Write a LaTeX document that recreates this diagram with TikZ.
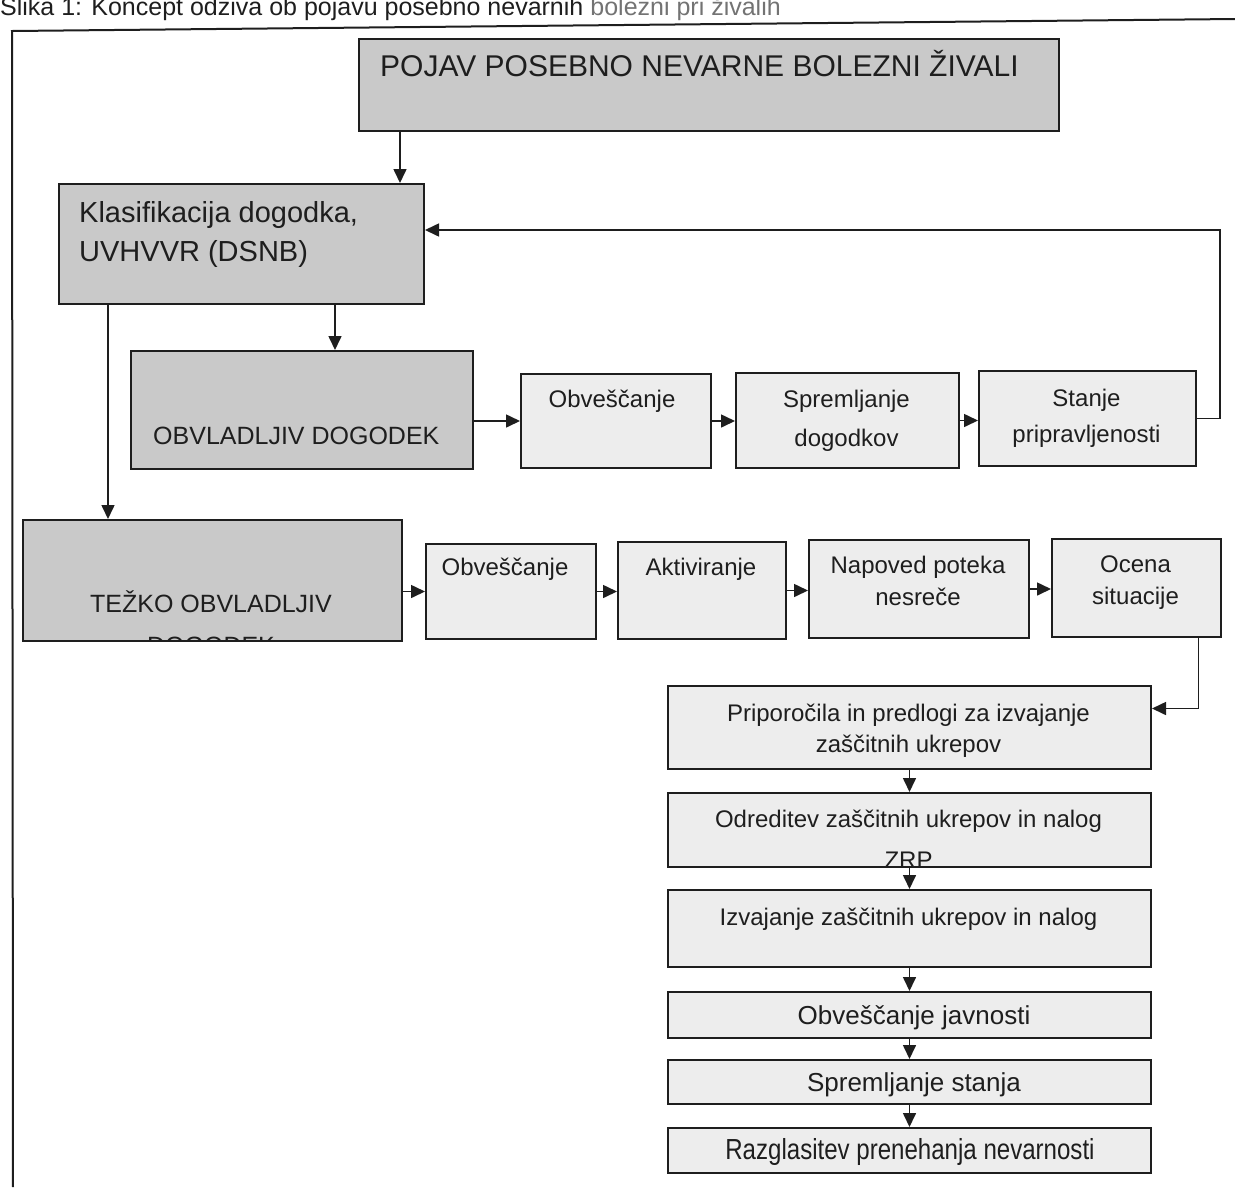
\documentclass[tikz,border=0pt]{standalone}
\usepackage{fontspec}
\setmainfont{Liberation Sans}
\newfontfamily\narrowfont[FakeStretch=0.83]{Liberation Sans}
\usetikzlibrary{arrows.meta,calc}
\definecolor{dgray}{HTML}{C9C9C9}
\definecolor{lgray}{HTML}{EDEDED}
\definecolor{ink}{HTML}{1E1E1E}
\begin{document}
\begin{tikzpicture}[x=1pt,y=-1pt,
  box/.style={draw=ink, line width=2pt, inner sep=0pt, anchor=north west},
  dbox/.style={box, fill=dgray},
  lbox/.style={box, fill=lgray},
  txt/.style={text=ink, inner sep=0pt, anchor=base, font=\fontsize{24}{29}\selectfont},
  ltxt/.style={txt, anchor=base west},
  arr/.style={draw=ink, line width=1.6pt, -{Triangle[length=14pt,width=13pt]}},
  ln/.style={draw=ink, line width=2pt}]
\useasboundingbox (0,0) rectangle (1235,1187);

% title (cut at the top of the page, as in the reference)
\node[ltxt, font=\fontsize{25}{30}\selectfont] (title) at (0,15) {Slika 1: Koncept odziva ob pojavu posebno nevarnih \textcolor{black!55}{bolezni pri živalih}};

% frame
\coordinate (ftl) at (12,31);
\coordinate (ftr) at (1235,19);
\coordinate (fbl) at (13,1187);
\draw[ln] (fbl) -- (ftl) -- (ftr);

% top part
\node[dbox, minimum width=700pt, minimum height=92pt] (pojav) at (358,38) {};
\node[ltxt, font=\fontsize{30}{36}\selectfont] (pojav-t) at (380,76) {POJAV POSEBNO NEVARNE BOLEZNI ŽIVALI};

\node[dbox, minimum width=365pt, minimum height=120pt] (klas) at (58,183) {};
\node[ltxt, font=\fontsize{29}{35}\selectfont] (klas-t1) at (79,222) {Klasifikacija dogodka,};
\node[ltxt, font=\fontsize{29}{35}\selectfont] (klas-t2) at (79,261) {UVHVVR (DSNB)};

% row 1
\node[dbox, minimum width=342pt, minimum height=118pt] (obv) at (130,350) {};
\node[ltxt, font=\fontsize{25}{30}\selectfont] (obv-t) at (153,444) {OBVLADLJIV DOGODEK};

\node[lbox, minimum width=190pt, minimum height=94pt] (obv1) at (520,373) {};
\node[txt] (obv1-t) at (612,407) {Obveščanje};

\node[lbox, minimum width=223pt, minimum height=95pt] (spr) at (735,372) {};
\node[txt] (spr-t1) at (846.5,407) {Spremljanje};
\node[txt] (spr-t2) at (846.5,446) {dogodkov};

\node[lbox, minimum width=217pt, minimum height=95pt] (stanje) at (978,370) {};
\node[txt] (stanje-t1) at (1086.5,406) {Stanje};
\node[txt] (stanje-t2) at (1086.5,442) {pripravljenosti};

% row 2
\node[dbox, minimum width=379pt, minimum height=121pt] (tezko) at (22,519) {};
\node[txt, font=\fontsize{25}{30}\selectfont] (tezko-t1) at (211,612) {TEŽKO OBVLADLJIV};
\begin{scope}
  \clip ([shift={(1pt,1pt)}]tezko.south west) rectangle ([shift={(-1pt,-1pt)}]tezko.north east);
  \node[txt, font=\fontsize{25}{30}\selectfont] (tezko-t2) at (211,654) {DOGODEK};
\end{scope}

\node[lbox, minimum width=170pt, minimum height=95pt] (obv2) at (425,543) {};
\node[txt] (obv2-t) at (505,575) {Obveščanje};

\node[lbox, minimum width=168pt, minimum height=97pt] (aktiv) at (617,541) {};
\node[txt] (aktiv-t) at (701,575) {Aktiviranje};

\node[lbox, minimum width=220pt, minimum height=98pt] (napov) at (808,539) {};
\node[txt] (napov-t1) at (918,573) {Napoved poteka};
\node[txt] (napov-t2) at (918,605) {nesreče};

\node[lbox, minimum width=169pt, minimum height=98pt] (ocena) at (1051,538) {};
\node[txt] (ocena-t1) at (1135.5,572) {Ocena};
\node[txt] (ocena-t2) at (1135.5,604) {situacije};

% vertical chain
\node[lbox, minimum width=483pt, minimum height=83pt] (prip) at (667,685) {};
\node[txt] (prip-t1) at (908.5,721) {Priporočila in predlogi za izvajanje};
\node[txt] (prip-t2) at (908.5,752) {zaščitnih ukrepov};

\node[lbox, minimum width=483pt, minimum height=74pt] (odred) at (667,792) {};
\node[txt] (odred-t1) at (908.5,827) {Odreditev zaščitnih ukrepov in nalog};
\begin{scope}
  \clip ([shift={(1pt,1pt)}]odred.south west) rectangle ([shift={(-1pt,-1pt)}]odred.north east);
  \node[txt] (odred-t2) at (908.5,868) {ZRP};
\end{scope}

\node[lbox, minimum width=483pt, minimum height=77pt] (izv) at (667,889) {};
\node[txt] (izv-t) at (908.5,925) {Izvajanje zaščitnih ukrepov in nalog};

\node[lbox, minimum width=483pt, minimum height=46pt] (javn) at (667,991) {};
\node[txt, font=\fontsize{26}{31}\selectfont] (javn-t) at (914,1024) {Obveščanje javnosti};

\node[lbox, minimum width=483pt, minimum height=44pt] (spst) at (667,1059) {};
\node[txt, font=\fontsize{26}{31}\selectfont] (spst-t) at (914,1091) {Spremljanje stanja};

\node[lbox, minimum width=483pt, minimum height=45pt] (razg) at (667,1127) {};
\node[txt, font=\narrowfont\fontsize{29}{34}\selectfont] (razg-t) at (910,1159) {Razglasitev prenehanja nevarnosti};

% connectors
\draw[arr] ([xshift=42pt]pojav.south west) -- ([xshift=42pt]pojav.south west |- klas.north);
\draw[arr] ([xshift=277pt]klas.south west) -- ([xshift=277pt]klas.south west |- obv.north);
\draw[arr] ([xshift=50pt]klas.south west) -- ([xshift=50pt]klas.south west |- tezko.north);
\draw[arr] (obv.east |- obv1.west) -- (obv1.west);
\draw[arr] (obv1.east) -- (obv1.east -| spr.west);
\draw[arr] (spr.east) -- (spr.east -| stanje.west);
\draw[arr] (stanje.east) -- ++(23,0) |- ([yshift=14pt]klas.east);

\draw[arr] (tezko.east |- obv2.west) -- (obv2.west);
\draw[arr] (obv2.east) -- (obv2.east -| aktiv.west);
\draw[arr] (aktiv.east) -- (aktiv.east -| napov.west);
\draw[arr] (napov.east) -- (napov.east -| ocena.west);
\draw[arr] ([xshift=62pt]ocena.south) |- ([yshift=19pt]prip.east);

\draw[arr] (prip.south) -- (odred.north);
\draw[arr] (odred.south) -- (izv.north);
\draw[arr] (izv.south) -- (javn.north);
\draw[arr] (javn.south) -- (spst.north);
\draw[arr] (spst.south) -- (razg.north);
\end{tikzpicture}
\end{document}
